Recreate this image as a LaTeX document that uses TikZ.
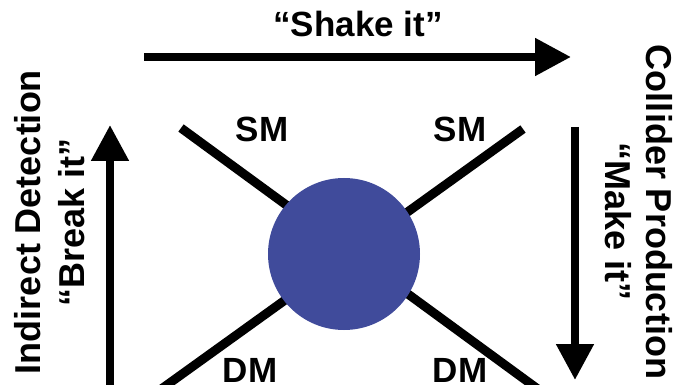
\documentclass[tikz,border=0pt]{standalone}
\usepackage{fontspec}
\setmainfont{Liberation Sans}
\usetikzlibrary{arrows.meta}
\definecolor{blobblue}{RGB}{64,75,155}
\begin{document}
\begin{tikzpicture}[x=1pt,y=-1pt,
  lbl/.style={font=\bfseries\fontsize{35}{35}\selectfont, inner sep=0pt, anchor=base},
  side/.style={font=\bfseries\fontsize{36}{36}\selectfont, inner sep=0pt, anchor=base},
  bigarrow/.style={line width=8pt, -{Triangle[length=36pt,width=36pt]}},
  leg/.style={line width=9pt}]
\useasboundingbox (0,0) rectangle (678,385);
\clip (0,0) rectangle (678,385);
% leg end points
\coordinate (tl) at (181,128);
\coordinate (br) at (546,395);
\coordinate (tr) at (523,129);
\coordinate (bl) at (153,395);
% arrow end points
\coordinate (shA) at (144,57);
\coordinate (shB) at (571,57);
\coordinate (brA) at (110,395);
\coordinate (brB) at (110,125);
\coordinate (mkA) at (575,127);
\coordinate (mkB) at (575,380);
% legs
\draw[leg] (tl) -- (br);
\draw[leg] (tr) -- (bl);
% blob
\node[circle, fill=blobblue, minimum size=152pt, inner sep=0pt] (blob) at (344,254) {};
% arrows
\draw[bigarrow] (shA) -- (shB);
\draw[bigarrow] (brA) -- (brB);
\draw[bigarrow] (mkA) -- (mkB);
% labels
\node[lbl] (shake) at (358,37) {“Shake it”};
\node[lbl] (sm1) at (262,142) {SM};
\node[lbl] (sm2) at (460,142) {SM};
\node[lbl] (dm1) at (250,382) {DM};
\node[lbl] (dm2) at (460,382) {DM};
\node[side, rotate=90] (indirect) at (40,222) {Indirect Detection};
\node[side, rotate=90] (break) at (84,222) {“Break it”};
\node[side, rotate=-90] (collider) at (646,212) {Collider Production};
\node[side, rotate=-90] (make) at (605,222) {“Make it”};
\end{tikzpicture}
\end{document}
